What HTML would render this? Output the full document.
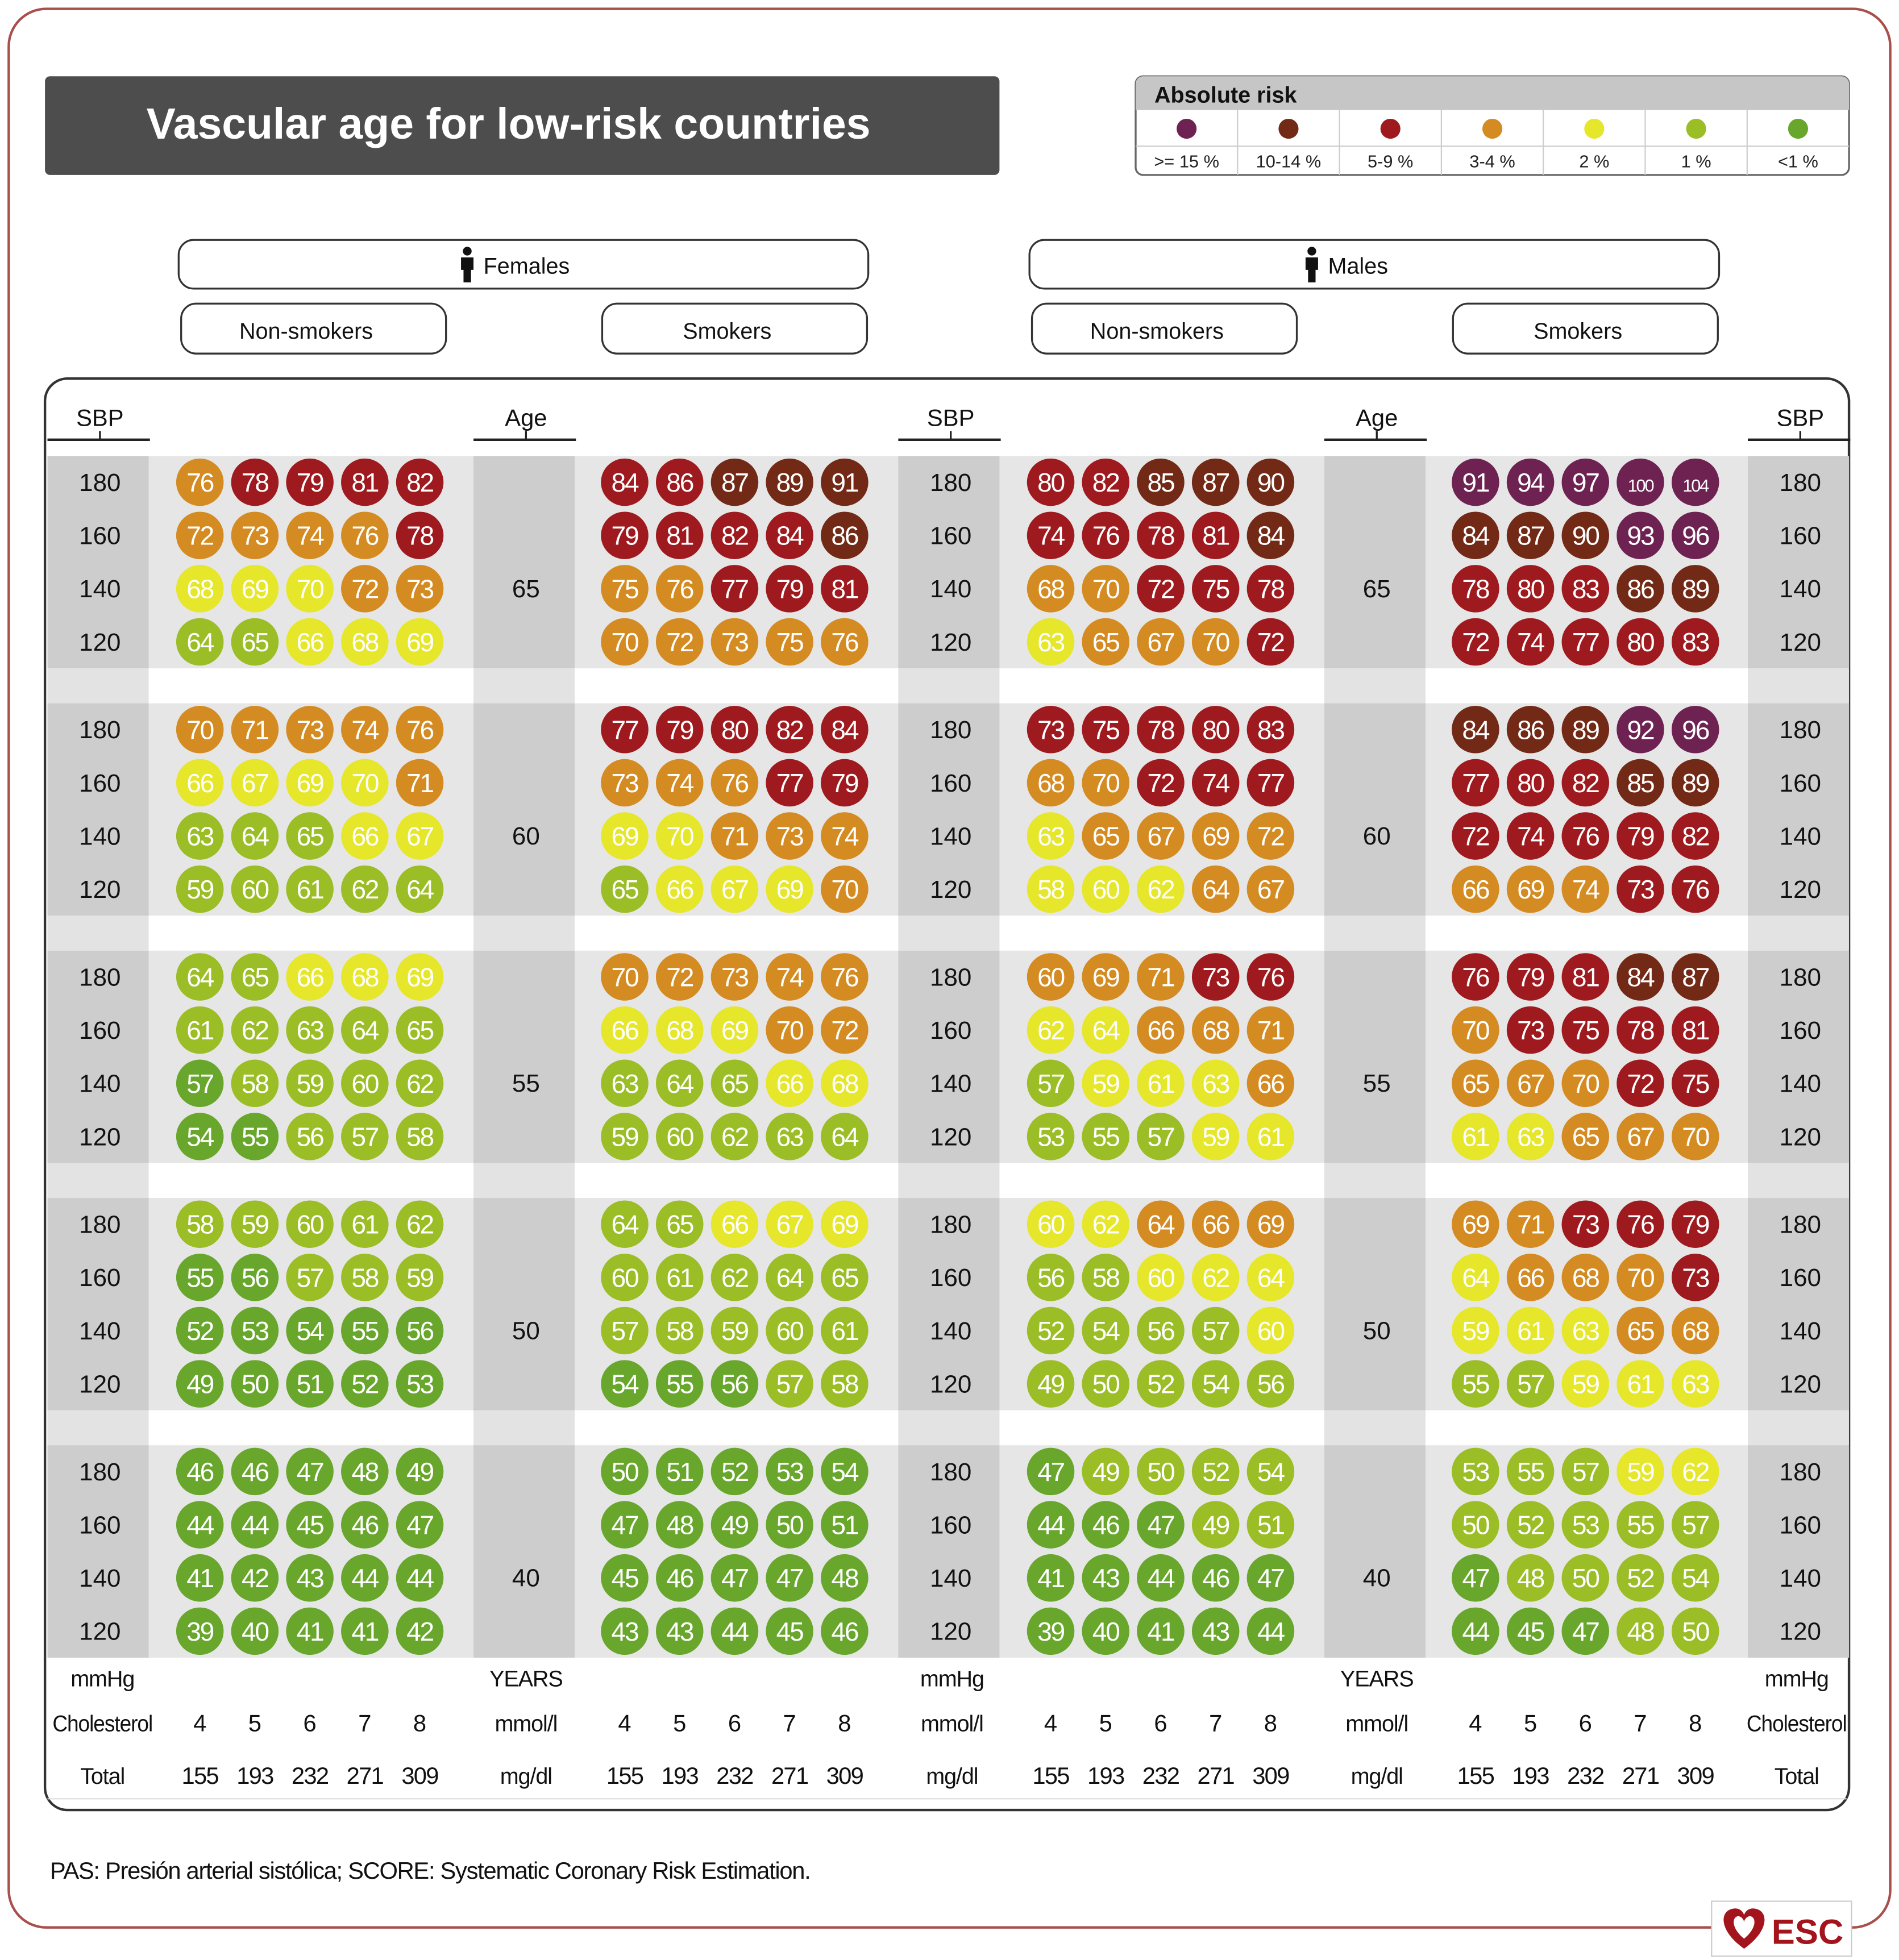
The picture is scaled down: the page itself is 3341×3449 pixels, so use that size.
<!DOCTYPE html>
<html><head><meta charset="utf-8"><style>
html,body{margin:0;padding:0;background:#fff}
svg{display:block}
text{font-family:"Liberation Sans",sans-serif}
</style></head><body>
<svg id="chart" width="3341" height="3449" viewBox="0 0 1520 1569" xmlns="http://www.w3.org/2000/svg">
<rect x="7" y="7" width="1506" height="1536" rx="30" fill="#fff" stroke="#a8504c" stroke-width="2"/>
<rect x="36" y="61" width="764" height="79" rx="4" fill="#4d4d4d"/>
<text x="407" y="111" font-size="35" font-weight="bold" fill="#fff" text-anchor="middle">Vascular age for low-risk countries</text>
<g id="legend">
<rect x="909" y="61" width="571" height="79" rx="6" fill="#fff" stroke="#666" stroke-width="1.5"/>
<path d="M909 88 V67 a6 6 0 0 1 6 -6 H1474 a6 6 0 0 1 6 6 V88 Z" fill="#c6c6c6"/>
<text x="924" y="82" font-size="18" font-weight="bold" fill="#111">Absolute risk</text>
<line x1="909" y1="117" x2="1480" y2="117" stroke="#ccc"/>
</g>
<g>
<rect x="143" y="192" width="552" height="39" rx="12" fill="#fff" stroke="#333" stroke-width="1.5"/>
<circle cx="374" cy="201" r="3.5" fill="#111"/><path d="M369 206 h10 v10 h-2 v10 h-6 v-10 h-2z" fill="#111"/>
<text x="387" y="219" font-size="18" fill="#111">Females</text>
</g>
<g>
<rect x="824" y="192" width="552" height="39" rx="12" fill="#fff" stroke="#333" stroke-width="1.5"/>
<circle cx="1050" cy="201" r="3.5" fill="#111"/><path d="M1045 206 h10 v10 h-2 v10 h-6 v-10 h-2z" fill="#111"/>
<text x="1063" y="219" font-size="18" fill="#111">Males</text>
</g>
<g id="subheads"></g>
<rect x="36" y="303" width="1444" height="1146" rx="18" fill="#fff" stroke="#333" stroke-width="2"/>
<g id="table"></g>
<text x="40" y="1504" font-size="19" fill="#111" letter-spacing="-0.6">PAS: Presión arterial sistólica; SCORE: Systematic Coronary Risk Estimation.</text>
<g>
<rect x="1370" y="1522" width="112" height="44" fill="#fff" stroke="#ccc"/>
<path d="M1396 1560 C1376 1546 1376 1530 1387 1528 C1392 1527 1395 1530 1396 1533 C1397 1530 1400 1527 1405 1528 C1416 1530 1416 1546 1396 1560Z" fill="#a3141d"/>
<path d="M1396 1552 C1386 1544 1386 1535 1391 1534 C1394 1534 1396 1537 1396 1539 C1396 1537 1398 1534 1401 1534 C1406 1535 1406 1544 1396 1552Z" fill="#fff"/>
<text x="1418" y="1556" font-size="28" font-weight="bold" fill="#a3141d">ESC</text>
</g>
</svg>
<script>
const riskColors={P:'#6e2252',B:'#722a17',R:'#9e1a1f',O:'#d48b22',Y:'#e6e62a',L:'#9bbd26',G:'#68a62c'};
const legendCodes=['P','B','R','O','Y','L','G'];
const legendLabels=['>= 15 %','10-14 %','5-9 %','3-4 %','2 %','1 %','<1 %'];
const ages=[65,60,55,50,40];
const sbpLevels=[180,160,140,120];
const cholMmol=[4,5,6,7,8];
const cholMg=[155,193,232,271,309];
const femNonSmokVals=[
[[76,78,79,81,82],[72,73,74,76,78],[68,69,70,72,73],[64,65,66,68,69]],
[[70,71,73,74,76],[66,67,69,70,71],[63,64,65,66,67],[59,60,61,62,64]],
[[64,65,66,68,69],[61,62,63,64,65],[57,58,59,60,62],[54,55,56,57,58]],
[[58,59,60,61,62],[55,56,57,58,59],[52,53,54,55,56],[49,50,51,52,53]],
[[46,46,47,48,49],[44,44,45,46,47],[41,42,43,44,44],[39,40,41,41,42]]];
const femNonSmokRisk=[['ORRRR','OOOOR','YYYOO','LLYYY'],['OOOOO','YYYYO','LLLYY','LLLLL'],['LLYYY','LLLLL','GLLLL','GGLLL'],['LLLLL','GGLLL','GGGGG','GGGGG'],['GGGGG','GGGGG','GGGGG','GGGGG']];
const femSmokVals=[
[[84,86,87,89,91],[79,81,82,84,86],[75,76,77,79,81],[70,72,73,75,76]],
[[77,79,80,82,84],[73,74,76,77,79],[69,70,71,73,74],[65,66,67,69,70]],
[[70,72,73,74,76],[66,68,69,70,72],[63,64,65,66,68],[59,60,62,63,64]],
[[64,65,66,67,69],[60,61,62,64,65],[57,58,59,60,61],[54,55,56,57,58]],
[[50,51,52,53,54],[47,48,49,50,51],[45,46,47,47,48],[43,43,44,45,46]]];
const femSmokRisk=[['RRBBB','RRRRB','OORRR','OOOOO'],['RRRRR','OOORR','YYOOO','LYYYO'],['OOOOO','YYYOO','LLLYY','LLLLL'],['LLYYY','LLLLL','LLLLL','GGGLL'],['GGGGG','GGGGG','GGGGG','GGGGG']];
const maleNonSmokVals=[
[[80,82,85,87,90],[74,76,78,81,84],[68,70,72,75,78],[63,65,67,70,72]],
[[73,75,78,80,83],[68,70,72,74,77],[63,65,67,69,72],[58,60,62,64,67]],
[[60,69,71,73,76],[62,64,66,68,71],[57,59,61,63,66],[53,55,57,59,61]],
[[60,62,64,66,69],[56,58,60,62,64],[52,54,56,57,60],[49,50,52,54,56]],
[[47,49,50,52,54],[44,46,47,49,51],[41,43,44,46,47],[39,40,41,43,44]]];
const maleNonSmokRisk=[['RRBBB','RRRRB','OORRR','YOOOR'],['RRRRR','OORRR','YOOOO','YYYOO'],['OOORR','YYOOO','LYYYO','LLLYY'],['YYOOO','LLYYY','LLLLY','LLLLL'],['GLLLL','GGGLL','GGGGG','GGGGG']];
const maleSmokVals=[
[[91,94,97,100,104],[84,87,90,93,96],[78,80,83,86,89],[72,74,77,80,83]],
[[84,86,89,92,96],[77,80,82,85,89],[72,74,76,79,82],[66,69,74,73,76]],
[[76,79,81,84,87],[70,73,75,78,81],[65,67,70,72,75],[61,63,65,67,70]],
[[69,71,73,76,79],[64,66,68,70,73],[59,61,63,65,68],[55,57,59,61,63]],
[[53,55,57,59,62],[50,52,53,55,57],[47,48,50,52,54],[44,45,47,48,50]]];
const maleSmokRisk=[['PPPPP','BBBPP','RRRBB','RRRRR'],['BBBPP','RRRBB','RRRRR','OOORR'],['RRRBB','ORRRR','OOORR','YYOOO'],['OORRR','YOOOR','YYYOO','LLYYY'],['LLLYY','LLLLL','GLLLL','GGGLL']];

const NS='http://www.w3.org/2000/svg';
function mk(tag,attrs,parent,txt){const e=document.createElementNS(NS,tag);for(const k in attrs)e.setAttribute(k,attrs[k]);if(txt!==undefined)e.textContent=txt;parent.appendChild(e);return e;}
const lg=document.getElementById('legend');
const cellW=571/7;
legendCodes.forEach((c,i)=>{
  const cx=909+cellW*(i+0.5);
  if(i>0){mk('line',{x1:909+cellW*i,y1:88,x2:909+cellW*i,y2:140,stroke:'#ccc'},lg);}
  const d=mk('circle',{cx:cx,cy:103,r:8,fill:riskColors[c]},lg);
  
  
  const t=mk('text',{x:cx,y:134,'font-size':14,'text-anchor':'middle',fill:'#222'},lg,legendLabels[i]);
  
  
});
const sh=document.getElementById('subheads');
[[145,'Non-smokers'],[482,'Smokers'],[826,'Non-smokers'],[1163,'Smokers']].forEach(([x,l])=>{
  const g=mk('g',{},sh);
  
  
  mk('rect',{x:x,y:243,width:212,height:40,rx:12,fill:'#fff',stroke:'#333','stroke-width':1.5},g);
  mk('text',{x:x+100,y:271,'font-size':18,'text-anchor':'middle',fill:'#111'},g,l);
});
const tb=document.getElementById('table');
const blockTop=b=>365+b*198;
const rowY=(b,r)=>blockTop(b)+21+r*42.6;
const panels=[{x0:160,v:femNonSmokVals,c:femNonSmokRisk,n:'female-nonsmoker'},{x0:500,v:femSmokVals,c:femSmokRisk,n:'female-smoker'},{x0:841,v:maleNonSmokVals,c:maleNonSmokRisk,n:'male-nonsmoker'},{x0:1181,v:maleSmokVals,c:maleSmokRisk,n:'male-smoker'}];
const labelCols=[{x:38,t:'sbp'},{x:379,t:'age'},{x:719,t:'sbp'},{x:1060,t:'age'},{x:1399,t:'sbp'}];
ages.forEach((a,b)=>{
  const y=blockTop(b);
  mk('rect',{x:38,y:y,width:1442,height:170,fill:'#e6e6e6'},tb);
  labelCols.forEach(lc=>mk('rect',{x:lc.x,y:y,width:81,height:170,fill:'#cdcdcd'},tb));
  if(b<4){
    labelCols.forEach(lc=>mk('rect',{x:lc.x,y:y+170,width:81,height:28,fill:'#e3e3e3'},tb));
  }
});
labelCols.forEach(lc=>{
  const cx=lc.x+42;
  const t=mk('text',{x:cx,y:341,'font-size':19,'text-anchor':'middle',fill:'#111'},tb,lc.t==='sbp'?'SBP':'Age');
  
  
  mk('line',{x1:lc.x,y1:352,x2:lc.x+82,y2:352,stroke:'#222','stroke-width':2},tb);
  mk('line',{x1:cx,y1:345,x2:cx,y2:352,stroke:'#222','stroke-width':1.5},tb);
  ages.forEach((a,b)=>{
    if(lc.t==='age'){
      const t2=mk('text',{x:cx,y:blockTop(b)+113,'font-size':20,'text-anchor':'middle',fill:'#111'},tb,a);
      
      
    } else {
      sbpLevels.forEach((s,r)=>{
        const t3=mk('text',{x:cx,y:rowY(b,r)+7,'font-size':20,'text-anchor':'middle',fill:'#111'},tb,s);
        
        
      });
    }
  });
});
panels.forEach(p=>{
  p.v.forEach((blk,b)=>blk.forEach((row,r)=>row.forEach((val,k)=>{
    const cx=p.x0+k*44, cy=rowY(b,r);
    const g=mk('g',{},tb);
    
    
    mk('circle',{cx:cx,cy:cy,r:19,fill:riskColors[p.c[b][r][k]]},g);
    mk('text',{x:cx,y:cy+7.5,'font-size':val>=100?14:21,'text-anchor':'middle',fill:'#fff','letter-spacing':'-1'},g,val);
  })));
  cholMmol.forEach((m,k)=>{
    const t=mk('text',{x:p.x0+k*44,y:1386,'font-size':19,'text-anchor':'middle',fill:'#111'},tb,m);
    
    
    const t2=mk('text',{x:p.x0+k*44,y:1428,'font-size':19,'text-anchor':'middle',fill:'#111','letter-spacing':'-0.8'},tb,cholMg[k]);
    
    
  });
});
const footLabels=[[82,'mmHg','Cholesterol','Total'],[421,'YEARS','mmol/l','mg/dl'],[762,'mmHg','mmol/l','mg/dl'],[1102,'YEARS','mmol/l','mg/dl'],[1438,'mmHg','Cholesterol','Total']];
footLabels.forEach(f=>{
  [[1350,f[1]],[1386,f[2]],[1428,f[3]]].forEach(([y,s])=>{
    const attrs={x:f[0],y:y,'font-size':18,'text-anchor':'middle',fill:'#111','letter-spacing':'-0.5'};
    if(s==='Cholesterol'){attrs.textLength=80;attrs.lengthAdjust='spacingAndGlyphs';}
    const t=mk('text',attrs,tb,s);
    
    
  });
});
mk('line',{x1:38,y1:1440,x2:1478,y2:1440,stroke:'#ddd'},tb);
</script>
</body></html>
